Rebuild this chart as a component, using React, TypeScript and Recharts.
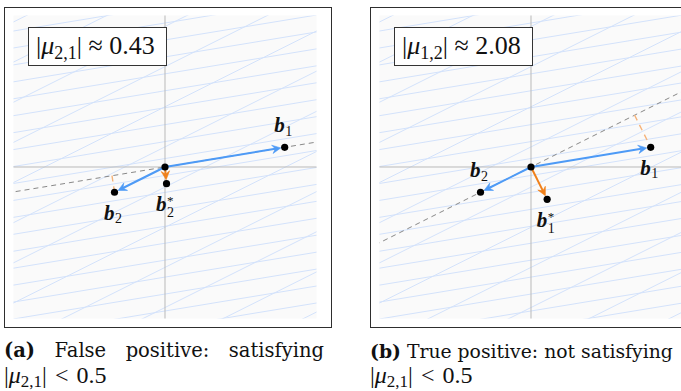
import React from "react";
import { ScatterChart, Scatter, XAxis, YAxis, ReferenceLine, ReferenceArea } from "recharts";

type Pt = { x: number; y: number };

// lattice basis and derived points (plot units)
const ORIGIN: Pt = { x: 0, y: 0 };
const B1: Pt = { x: 2.37, y: 0.39 };
const B2: Pt = { x: -1.0, y: -0.5 };
const B2_STAR: Pt = { x: 0.03, y: -0.33 };
const B1_STAR: Pt = { x: 0.32, y: -0.64 };
const FOOT_B2_ON_B1: Pt = { x: -1.05, y: -0.17 };
const FOOT_B1_ON_B2: Pt = { x: 2.05, y: 1.03 };

const LATTICE_STEPS = [-10, -9, -8, -7, -6, -5, -4, -3, -2, -1, 0, 1, 2, 3, 4, 5, 6, 7, 8, 9, 10];
const AXIS_DOMAIN: [number, number] = [-3, 3];

const MU_SUBS = ["2,1", "1,2"];
const MU_VALUES = ["0.43", "2.08"];
const CAPTION_A = ["(a)", "False", "positive:", "satisfying"];
const CAPTION_B = ["(b)", "True positive: not satisfying"];

const BLUE = "#4d9af6";
const ORANGE = "#f0801a";
const MATH_FONT = '"Liberation Serif", serif';
const TEXT_FONT = '"DejaVu Serif", serif';

const add = (p: Pt, q: Pt, s = 1): Pt => ({ x: p.x + q.x * s, y: p.y + q.y * s });
const scale = (p: Pt, s: number): Pt => ({ x: p.x * s, y: p.y * s });

// fundamental-domain tiling lines of the lattice
const latticeSegments: [Pt, Pt][] = [];
LATTICE_STEPS.forEach((k) => {
  const c = scale(B2, k + 0.5);
  latticeSegments.push([add(c, B1, -8), add(c, B1, 8)]);
  const d = scale(B1, k + 0.5);
  latticeSegments.push([add(d, B2, -14), add(d, B2, 14)]);
});

const Arrow = (props: any) => {
  const { x1, y1, x2, y2, stroke } = props;
  const dx = x2 - x1;
  const dy = y2 - y1;
  const len = Math.hypot(dx, dy);
  const ux = dx / len;
  const uy = dy / len;
  const nx = -uy;
  const ny = ux;
  const tx = x2 - ux * 4;
  const ty = y2 - uy * 4;
  const head = 8.5;
  const half = 4.2;
  const notch = 5.5;
  const bx = tx - ux * head;
  const by = ty - uy * head;
  const d = `M${tx},${ty} L${bx + nx * half},${by + ny * half} L${tx - ux * notch},${ty - uy * notch} L${bx - nx * half},${by - ny * half} Z`;
  return (
    <g>
      <line x1={x1} y1={y1} x2={tx - ux * notch} y2={ty - uy * notch} stroke={stroke} strokeWidth={2} />
      <path d={d} fill={stroke} stroke={stroke} strokeWidth={0.6} strokeLinejoin="miter" />
    </g>
  );
};

type Marked = Pt & { id: string; sub?: string; sup?: string };

const VecLabel = (props: any) => {
  const { cx, cy, payload, place } = props;
  const p = payload as Marked;
  const pos = place[p.id];
  const dot = <circle cx={cx} cy={cy} r={3.6} fill="#000" />;
  if (!p.sub) return dot;
  const base = cy + (pos === "above" ? -15 : 27.5);
  const left = cx - 10.5;
  return (
    <g>
      {dot}
      <text x={left} y={base} fontFamily={MATH_FONT} fill="#111">
        <tspan fontWeight="bold" fontStyle="italic" fontSize={21}>
          b
        </tspan>
        {p.sup ? (
          <>
            <tspan fontSize={13} dx={0.5} dy={-6}>
              {p.sup}
            </tspan>
            <tspan fontSize={14} dx={-6.5} dy={12}>
              {p.sub}
            </tspan>
          </>
        ) : (
          <tspan fontSize={14} dx={0.5} dy={3.5}>
            {p.sub}
          </tspan>
        )}
      </text>
    </g>
  );
};

function Panel({ left, which }: { left: number; which: 0 | 1 }) {
  const points: Marked[] =
    which === 0
      ? [
          { ...ORIGIN, id: "o" },
          { ...B1, id: "b1", sub: "1" },
          { ...B2, id: "b2", sub: "2" },
          { ...B2_STAR, id: "bs", sub: "2", sup: "*" },
        ]
      : [
          { ...ORIGIN, id: "o" },
          { ...B1, id: "b1", sub: "1" },
          { ...B2, id: "b2", sub: "2" },
          { ...B1_STAR, id: "bs", sub: "1", sup: "*" },
        ];
  const place =
    which === 0
      ? { b1: "above", b2: "below", bs: "below" }
      : { b1: "below", b2: "above", bs: "below" };
  const spanDir = which === 0 ? B1 : B2;
  const star = which === 0 ? B2_STAR : B1_STAR;
  const foot = which === 0 ? FOOT_B2_ON_B1 : FOOT_B1_ON_B2;
  const footFrom = which === 0 ? B2 : B1;

  return (
    <>
      <div
        style={{
          position: "absolute",
          left,
          top: 7,
          width: 328,
          height: 321,
          boxSizing: "border-box",
          border: "1.3px solid #2e2e2e",
        }}
      />
      <div style={{ position: "absolute", left: left - 4, top: 0 }}>
        <ScatterChart width={340} height={330} margin={{ left: 13.5, top: 15.5, right: 23.5, bottom: 11.5 }}>
          <XAxis type="number" dataKey="x" domain={AXIS_DOMAIN} hide allowDataOverflow />
          <YAxis type="number" dataKey="y" domain={AXIS_DOMAIN} hide allowDataOverflow />
          <ReferenceArea x1={-3} x2={3} y1={-3} y2={3} fill="#fafafa" fillOpacity={1} stroke="none" />
          {latticeSegments.map((s, i) => (
            <ReferenceLine key={i} segment={[s[0], s[1]]} stroke="#d3e2fb" strokeWidth={1} ifOverflow="hidden" />
          ))}
          <ReferenceLine x={0} stroke="#b9b9b9" strokeWidth={1} />
          <ReferenceLine y={0} stroke="#b9b9b9" strokeWidth={1} />
          <ReferenceLine
            segment={[scale(spanDir, -8), scale(spanDir, 8)]}
            stroke="#7a7a7a"
            strokeWidth={0.9}
            strokeDasharray="5 4"
            ifOverflow="hidden"
          />
          <ReferenceLine
            segment={[foot, footFrom]}
            stroke="#f5b37a"
            strokeWidth={1.4}
            strokeDasharray="6 5"
            ifOverflow="hidden"
          />
          <ReferenceLine segment={[ORIGIN, B1]} stroke={BLUE} shape={(p: any) => <Arrow {...p} stroke={BLUE} />} />
          <ReferenceLine segment={[ORIGIN, B2]} stroke={BLUE} shape={(p: any) => <Arrow {...p} stroke={BLUE} />} />
          <ReferenceLine segment={[ORIGIN, star]} stroke={ORANGE} shape={(p: any) => <Arrow {...p} stroke={ORANGE} />} />
          <Scatter data={points} isAnimationActive={false} shape={(p: any) => <VecLabel {...p} place={place} />} />
        </ScatterChart>
      </div>
      <div
        style={{
          position: "absolute",
          left: left + 24,
          top: 27,
          width: 139,
          height: 39,
          boxSizing: "border-box",
          border: "1.2px solid #333",
          background: "#fff",
          fontFamily: MATH_FONT,
          fontSize: 26,
          lineHeight: "36px",
          paddingLeft: 7,
          whiteSpace: "nowrap",
          color: "#111",
        }}
      >
        |<i>μ</i>
        <span style={{ fontSize: 18, verticalAlign: "-5px", lineHeight: 0 }}>{MU_SUBS[which]}</span>| ≈ {MU_VALUES[which]}
      </div>
    </>
  );
}

const MuLine = ({ left }: { left: number }) => (
  <div
    style={{
      position: "absolute",
      left,
      top: 362,
      fontSize: 24,
      lineHeight: "26px",
      whiteSpace: "nowrap",
      fontFamily: MATH_FONT,
    }}
  >
    |<i>μ</i>
    <span style={{ fontSize: 17, verticalAlign: "-4px", lineHeight: 0 }}>2,1</span>|
    <span style={{ margin: "0 8px" }}>&lt;</span>0.5
  </div>
);

export default function App() {
  return (
    <div
      style={{
        position: "absolute",
        left: 0,
        top: 0,
        width: 681,
        height: 391,
        overflow: "hidden",
        background: "#fff",
        color: "#111",
      }}
    >
      <Panel left={4} which={0} />
      <Panel left={370} which={1} />
      <div
        style={{
          position: "absolute",
          left: 4,
          top: 339,
          width: 320,
          display: "flex",
          justifyContent: "space-between",
          fontSize: 19.5,
          fontFamily: TEXT_FONT,
          whiteSpace: "nowrap",
        }}
      >
        <b>{CAPTION_A[0]}</b>
        {CAPTION_A.slice(1).map((w) => (
          <span key={w}>{w}</span>
        ))}
      </div>
      <MuLine left={4} />
      <div
        style={{
          position: "absolute",
          left: 370,
          top: 339.5,
          fontSize: 18.8,
          fontFamily: TEXT_FONT,
          whiteSpace: "nowrap",
        }}
      >
        <b>{CAPTION_B[0]}</b> {CAPTION_B[1]}
      </div>
      <MuLine left={370} />
    </div>
  );
}
